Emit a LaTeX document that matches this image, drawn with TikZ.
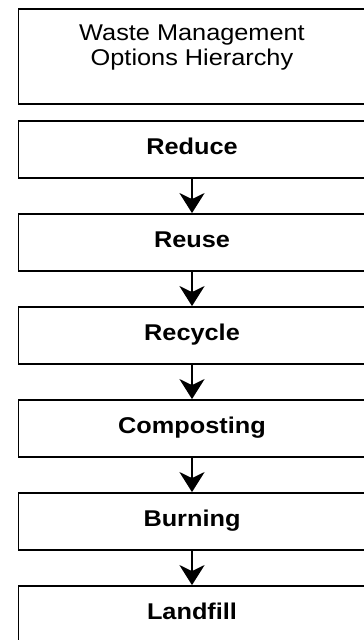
\documentclass[tikz,border=0pt]{standalone}
\usepackage{fontspec}
\setmainfont[FakeStretch=1.11]{Liberation Sans}
\usetikzlibrary{arrows.meta}
\begin{document}
\begin{tikzpicture}[x=1pt,y=-1pt,
  stagebox/.style={draw=black,line width=1.8pt,minimum width=347pt,minimum height=57pt,
    inner sep=0pt,font=\fontsize{22.8}{24.5}\selectfont\bfseries,text height=16pt,text depth=6pt},
  titlebox/.style={draw=black,line width=1.8pt,minimum width=347pt,minimum height=95pt,inner sep=0pt},
  titletext/.style={inner sep=0pt,align=center,font=\fontsize{22.8}{24.6}\selectfont},
  flow/.style={line width=2.8pt,-{Stealth[length=20pt,width=25pt,inset=6pt]}}]
\useasboundingbox (0,0) rectangle (364,640);
\clip (0,0) rectangle (364,640);
\node[titlebox] (title) at (192,56.5) {};
\node[titletext,anchor=north] (titletxt) at (192,25) {Waste Management\\Options Hierarchy};
\node[stagebox] (reduce) at (192,149.5) {Reduce};
\node[stagebox] (reuse) at (192,242.5) {Reuse};
\node[stagebox] (recycle) at (192,335.5) {Recycle};
\node[stagebox] (compost) at (192,428.5) {Composting};
\node[stagebox] (burn) at (192,521.5) {Burning};
\node[stagebox] (landfill) at (192,614.5) {Landfill};
\draw[flow] (reduce.south) -- (reuse.north);
\draw[flow] (reuse.south) -- (recycle.north);
\draw[flow] (recycle.south) -- (compost.north);
\draw[flow] (compost.south) -- (burn.north);
\draw[flow] (burn.south) -- (landfill.north);
\end{tikzpicture}
\end{document}
